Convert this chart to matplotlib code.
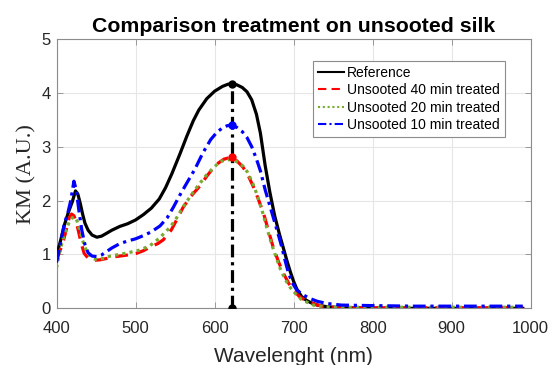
import matplotlib
matplotlib.use("Agg")
import matplotlib.pyplot as plt

# ---- data ----
wl_ref = [400, 405, 410, 415, 420, 424, 427, 430, 433, 436, 440, 445, 451, 457, 463, 470, 480, 490, 500, 510,
          520, 530, 538, 546, 556, 565, 573, 580, 590, 600, 610, 617, 622, 628, 635, 641, 647, 653, 658, 664,
          670, 676, 682, 687, 692, 696, 700, 704, 710, 716, 721, 730, 742, 760, 800, 850, 900, 950, 990]
km_ref = [0.98, 1.25, 1.55, 1.78, 1.98, 2.18, 2.12, 1.95, 1.75, 1.58, 1.45, 1.36, 1.32, 1.34, 1.39, 1.45, 1.52, 1.57, 1.64, 1.74,
          1.86, 2.03, 2.24, 2.5, 2.86, 3.2, 3.48, 3.68, 3.89, 4.03, 4.12, 4.16, 4.17, 4.15, 4.1, 4.02, 3.87, 3.6, 3.25, 2.65,
          2.15, 1.72, 1.38, 1.12, 0.86, 0.67, 0.5, 0.36, 0.22, 0.15, 0.11, 0.06, 0.03, 0.01, 0.0, 0.0, 0.0, 0.0, 0.0]

wl_40 = [400, 404, 409, 413, 416, 419, 422, 425, 428, 431, 435, 440, 446, 455, 465, 475, 490, 501, 510, 520,
         528, 535, 545, 552, 560, 570, 582, 590, 598, 605, 612, 620, 628, 636, 643, 649, 655, 662, 668, 674,
         681, 687, 694, 700, 708, 717, 728, 738, 760, 800, 850, 900, 950, 990]
km_40 = [0.9, 1.05, 1.27, 1.5, 1.68, 1.75, 1.72, 1.6, 1.42, 1.22, 1.02, 0.93, 0.89, 0.9, 0.93, 0.96, 0.99, 1.02, 1.07, 1.15,
         1.2, 1.27, 1.45, 1.64, 1.87, 2.08, 2.28, 2.45, 2.6, 2.7, 2.77, 2.80, 2.74, 2.62, 2.45, 2.26, 2.04, 1.76, 1.45, 1.14,
         0.86, 0.65, 0.46, 0.33, 0.21, 0.13, 0.07, 0.03, 0.01, 0.01, 0.01, 0.01, 0.01, 0.01]

wl_20 = [400, 404, 410, 416, 420, 423, 426, 429, 433, 438, 445, 452, 460, 468, 476, 490, 505, 518, 530, 544,
         552, 560, 568, 575, 590, 600, 607, 613, 619, 625, 630, 636, 642, 648, 654, 660, 666, 672, 678, 684,
         690, 696, 703, 710, 725, 740, 760, 800, 850, 900, 950, 990]
km_20 = [0.75, 1.05, 1.38, 1.6, 1.68, 1.70, 1.62, 1.47, 1.26, 1.06, 0.93, 0.9, 0.93, 0.97, 0.99, 1.03, 1.08, 1.16, 1.3, 1.51,
         1.68, 1.88, 2.05, 2.2, 2.48, 2.63, 2.72, 2.75, 2.76, 2.74, 2.71, 2.64, 2.52, 2.33, 2.1, 1.82, 1.5, 1.2, 0.94, 0.7,
         0.52, 0.38, 0.26, 0.16, 0.06, 0.03, 0.02, 0.02, 0.02, 0.02, 0.02, 0.02]

wl_10 = [400, 405, 410, 414, 418, 422, 425, 428, 432, 436, 440, 445, 451, 457, 463, 470, 480, 490, 500, 510,
         520, 531, 540, 548, 556, 565, 575, 585, 595, 603, 610, 616, 621, 628, 635, 641, 647, 653, 658, 664,
         669, 674, 680, 685, 689, 693, 698, 704, 712, 721, 730, 742, 760, 800, 850, 900, 950, 990]
km_10 = [0.85, 1.2, 1.58, 1.75, 2.0, 2.36, 2.2, 1.85, 1.45, 1.18, 1.03, 0.97, 0.96, 0.99, 1.05, 1.12, 1.2, 1.25, 1.29, 1.35,
         1.42, 1.53, 1.68, 1.88, 2.1, 2.33, 2.58, 2.88, 3.13, 3.27, 3.35, 3.39, 3.40, 3.36, 3.28, 3.17, 3.0, 2.77, 2.55, 2.2,
         1.95, 1.7, 1.4, 1.14, 0.9, 0.68, 0.48, 0.34, 0.25, 0.18, 0.13, 0.09, 0.06, 0.05, 0.04, 0.04, 0.04, 0.04]

peak_wl = 622
peak_ref, peak_40, peak_10 = 4.16, 2.80, 3.40

labels = ["Reference", "Unsooted 40 min treated", "Unsooted 20 min treated", "Unsooted 10 min treated"]
title = "Comparison treatment on unsooted silk"
xlabel = "Wavelenght (nm)"
ylabel = "KM (A.U.)"
xticks = [400, 500, 600, 700, 800, 900, 1000]
yticks = [0, 1, 2, 3, 4, 5]

# ---- figure ----
plt.rcParams['font.family'] = ['Liberation Sans', 'DejaVu Sans']
fig = plt.figure(figsize=(5.53, 3.65), dpi=100)
ax = fig.add_axes([0.1022, 0.1553, 0.9597 - 0.1022, 0.8932 - 0.1553])

lw = 2.3
ax.plot(wl_ref, km_ref, color='black', lw=lw, ls='-', label=labels[0], zorder=3)
ax.plot(wl_40, km_40, color='#ff0000', lw=lw, ls=(0, (4, 2.5)), label=labels[1], zorder=4)
ax.plot(wl_20, km_20, color='#77ac30', lw=lw, ls=(0, (1, 1.3)), label=labels[2], zorder=5)
ax.plot(wl_10, km_10, color='#0000ff', lw=lw, ls=(0, (4, 1.5, 1, 1.5)), label=labels[3], zorder=6)

ax.plot([peak_wl, peak_wl], [0, peak_ref], color='black', lw=lw, ls=(0, (4, 1.5, 1, 1.5)), zorder=7)
ax.plot([peak_wl, peak_wl], [0, peak_ref], 'o', color='black', ms=5, zorder=8)
ax.plot([peak_wl], [peak_10], 'o', color='#0000ff', ms=5, zorder=8)
ax.plot([peak_wl], [peak_40], 'o', color='#ff0000', ms=5, zorder=8)

ax.set_xlim(400, 1000)
ax.set_ylim(0, 5)
ax.set_xticks(xticks)
ax.set_yticks(yticks)
ax.grid(True, color='#e6e6e6', lw=0.8)
ax.set_axisbelow(True)
for s in ax.spines.values():
    s.set_color('#8c8c8c')
    s.set_linewidth(0.8)
ax.tick_params(direction='in', length=4, width=0.6, color='#8c8c8c', labelsize=12,
               labelcolor='#262626', top=True, right=True)
ax.tick_params(axis='y', pad=4)
ax.tick_params(axis='x', pad=9)

ax.set_title(title, fontsize=15.3, fontweight='bold', pad=5)
ax.set_xlabel(xlabel, fontsize=15, color='#262626', labelpad=8)
ax.set_ylabel(ylabel, fontsize=16, family=['Liberation Serif', 'DejaVu Serif'], color='#262626', labelpad=4)

leg = ax.legend(loc='upper right', bbox_to_anchor=(505 / 553, 1 - 61 / 365), bbox_transform=fig.transFigure,
                borderaxespad=0, fontsize=10, frameon=True, fancybox=False, framealpha=1,
                handlelength=1.9, handletextpad=0.2, labelspacing=0.25, borderpad=0.35)
leg.get_frame().set_edgecolor('#8c8c8c')
leg.get_frame().set_linewidth(0.8)
for line in leg.get_lines():
    line.set_linewidth(1.5)

fig.savefig('out.png', dpi=100)
